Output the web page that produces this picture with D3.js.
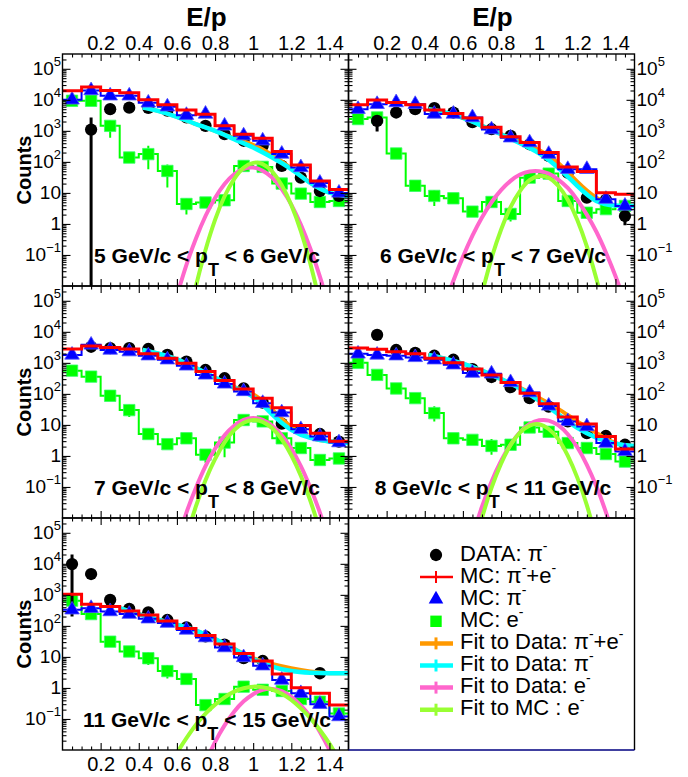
<!DOCTYPE html>
<html><head><meta charset="utf-8">
<script src="https://cdn.jsdelivr.net/npm/d3@7"></script>
<style>body{margin:0;background:#fff}svg text{font-family:"Liberation Sans",Arial,Helvetica,sans-serif}</style>
</head><body><svg id="c" width="688" height="777"></svg>
<script>
// ---------------- data ----------------
const binCenters = [0.05,0.15,0.25,0.35,0.45,0.55,0.65,0.75,0.85,0.95,1.05,1.15,1.25,1.35,1.45];
const binWidth = 0.1;
const ptLow = [5,6,7,8,11];
const ptHigh = [6,7,8,11,15];
const xTicks = [0.2,0.4,0.6,0.8,1.0,1.2,1.4];
const xTickLabels = ["0.2","0.4","0.6","0.8","1","1.2","1.4"];
const yTicks = [0.1,1,10,100,1000,10000,100000];
const yTickLabels = ["10^\u22121","1","10","10^2","10^3","10^4","10^5"];

// DATA: pi- (black)
const dataPi = [
 [null,1100,5000,5600,5500,4500,2700,1450,780,480,330,74,31,11.5,8],
 [null,2100,3900,5000,5400,3900,1900,1130,690,370,155,45,7,6,1.8],
 [null,3300,3000,3000,2800,1800,1100,590,320,150,52,11,7,5.1,2.9],
 [null,8000,2600,2100,1700,1260,630,350,165,73,39,13,5.4,4.4,2.3],
 [9800,4700,690,355,275,155,89,46,25,9.1,7.4,null,null,3.0,null]
];
const dataErrLow = [
 [null,0.001,null,null,null,null,null,null,null,null,null,null,null,null,null],
 [null,950,null,null,null,null,null,null,null,null,null,null,null,null,0.9],
 [null,null,null,null,null,null,null,null,null,null,null,null,null,null,null],
 [null,null,null,null,null,null,null,null,null,null,null,null,null,null,null],
 [200,null,null,null,null,null,null,null,null,null,null,null,null,1.9,null]
];
const dataErrHigh = [
 [null,2700,null,null,null,null,null,null,null,null,null,null,null,null,null],
 [null,3000,null,null,null,null,null,null,null,null,null,null,null,null,2.6],
 [null,null,null,null,null,null,null,null,null,null,null,null,null,null,null],
 [null,null,null,null,null,null,null,null,null,null,null,null,null,null,null],
 [20000,null,null,null,null,null,null,null,null,null,null,null,null,4.3,null]
];
// MC: pi- + e- (red histogram)
const mcPiE = [
 [19500,26000,20000,17000,10000,6900,4700,3400,1450,780,580,215,80,24,13],
 [6900,9800,8200,6900,4700,3600,2600,1300,650,420,200,69,49,10.2,9.1],
 [2800,3500,3100,2800,1950,1400,970,525,270,143,73,36,9.6,5.4,3.0],
 [3000,2750,2300,1950,1400,1000,630,410,235,105,48,18,10.7,4.2,1.66],
 [1050,500,420,300,225,145,83,49,26,13,7.4,2.8,1.02,0.67,0.28]
];
// MC: pi- (blue)
const mcPi = [
 [10000,20000,13500,13500,8000,6000,3200,3500,1450,700,480,180,66,21,10],
 [5000,7200,8200,7200,3500,3500,2700,1100,600,420,178,58,58,6.3,3.8],
 [1800,3800,2600,2300,1700,1260,800,410,210,120,50,25,7.2,4.2,2.7],
 [1950,1800,1700,1500,1260,870,470,445,235,110,41,13,8.9,2.6,1.4],
 [330,370,290,240,170,123,74,42,20,9.6,5.2,1.8,0.67,0.30,0.12]
];
// MC: e- (green)
const mcE = [
 [9300,9300,1450,138,178,51,4.4,4.9,5.8,74,69,20,9.5,5.1,5.5],
 [2400,2700,186,17,8,6.7,2.5,5.1,2.1,31,42,5.5,2.3,3.0,3.8],
 [560,360,87,30,5.1,2.4,3.7,1.1,2.7,14.4,13,3.7,1.8,0.74,0.83],
 [1000,410,150,73,24,3.7,3.3,2.1,2.3,8.3,6.0,2.6,1.8,1.15,0.66],
 [650,240,31,15,9.1,3.5,1.95,0.28,0.44,1.1,0.87,0.80,0.44,0.36,0.15]
];
const mcEErrLow = [
 [null,null,600,100,58,15,2.0,null,null,null,null,null,null,null,null],
 [null,null,null,null,3.8,null,null,null,1.2,null,null,null,null,null,null],
 [null,null,null,18,null,null,null,0.6,0.9,null,null,null,null,null,null],
 [null,null,null,null,13,null,null,1.1,null,null,null,null,null,null,null],
 [null,null,null,null,5.5,2.0,null,null,null,null,null,null,null,null,null]
];
const mcEErrHigh = [
 [null,null,2100,190,330,83,6.5,null,null,null,null,null,null,null,null],
 [null,null,null,null,12,null,null,null,3.5,null,null,null,null,null,null],
 [null,null,null,45,null,null,null,1.6,4,null,null,null,null,null,null],
 [null,null,null,null,40,null,null,3.5,null,null,null,null,null,null,null],
 [null,null,null,null,14,5.5,null,null,null,null,null,null,null,null,null]
];
// Fit to Data: pi- + e- (orange)  [E/p, counts]
const fitDataPiE = [
 [[0.42,5600],[0.5,4400],[0.6,2800],[0.7,1660],[0.8,1007],[0.9,580],[1.0,356],[1.1,169],[1.2,62],[1.3,21.2],[1.4,10.2],[1.5,8]],
 [[0.42,5000],[0.5,4000],[0.6,2600],[0.7,1452],[0.8,792],[0.9,439],[1.0,240],[1.1,92],[1.2,23],[1.3,7],[1.4,3.9],[1.5,3.8]],
 [[0.42,2600],[0.5,2000],[0.6,1300],[0.7,680],[0.8,332],[0.9,169],[1.0,97],[1.1,31],[1.2,8.7],[1.3,3.9],[1.4,2.9],[1.5,2.6]],
 [[0.42,1800],[0.5,1400],[0.6,950],[0.7,560],[0.8,301],[0.9,156],[1.0,74],[1.1,33],[1.2,13],[1.3,5.5],[1.4,2.6],[1.5,2.1]],
 [[0.3,370],[0.4,240],[0.5,160],[0.6,110],[0.7,70],[0.8,38],[0.9,18.2],[1.0,9.1],[1.1,5.9],[1.2,4.3],[1.3,3.4],[1.4,3.0],[1.5,3.0]]
];
// Fit to Data: pi- (cyan)
const fitDataPi = [
 [[0.42,5600],[0.5,4400],[0.6,2800],[0.7,1660],[0.8,1000],[0.9,540],[1.0,290],[1.1,138],[1.2,58],[1.3,21],[1.4,10.2],[1.5,8]],
 [[0.42,5000],[0.5,4000],[0.6,2600],[0.7,1450],[0.8,780],[0.9,400],[1.0,190],[1.1,65],[1.2,17],[1.3,5.5],[1.4,3.9],[1.5,3.8]],
 [[0.42,2600],[0.5,2000],[0.6,1300],[0.7,680],[0.8,330],[0.9,160],[1.0,80],[1.1,22],[1.2,7],[1.3,3.8],[1.4,2.9],[1.5,2.6]],
 [[0.42,1800],[0.5,1400],[0.6,950],[0.7,560],[0.8,300],[0.9,150],[1.0,60],[1.1,22],[1.2,8],[1.3,3.9],[1.4,2.5],[1.5,2.1]],
 [[0.3,370],[0.4,240],[0.5,160],[0.6,110],[0.7,70],[0.8,38],[0.9,18],[1.0,8.5],[1.1,4.9],[1.2,3.5],[1.3,3.1],[1.4,3.0],[1.5,3.0]]
];
// Fit to Data: e- (pink)
const fitDataE = [
 [[0.60,0.0049],[0.65,0.048],[0.70,0.34],[0.75,1.8],[0.80,6.9],[0.85,19.5],[0.90,40],[0.95,60],[1.00,66],[1.05,52],[1.10,31],[1.15,13.2],[1.20,4.2],[1.25,0.95],[1.30,0.16],[1.35,0.02],[1.40,0.0018]],
 [[0.50,0.002],[0.55,0.0148],[0.60,0.087],[0.65,0.42],[0.70,1.62],[0.75,5.0],[0.80,12.3],[0.85,24.5],[0.90,39],[0.95,49],[1.00,50],[1.05,42],[1.10,27],[1.15,14.5],[1.20,6.0],[1.25,2.0],[1.30,0.56],[1.35,0.12],[1.40,0.021],[1.45,0.003]],
 [[0.60,0.0017],[0.65,0.015],[0.70,0.095],[0.75,0.47],[0.80,1.7],[0.85,4.6],[0.90,9.3],[0.95,14.5],[1.00,16.6],[1.05,14.5],[1.10,9.3],[1.15,4.6],[1.20,1.7],[1.25,0.47],[1.30,0.095],[1.35,0.015],[1.40,0.0017]],
 [[0.65,0.0026],[0.70,0.023],[0.75,0.148],[0.80,0.69],[0.85,2.3],[0.90,5.9],[0.95,10.7],[1.00,14.1],[1.05,13.8],[1.10,9.8],[1.15,5.0],[1.20,1.9],[1.25,0.52],[1.30,0.105],[1.35,0.0155],[1.40,0.0017]],
 [[0.75,0.004],[0.80,0.018],[0.85,0.062],[0.90,0.17],[0.95,0.37],[1.00,0.63],[1.05,0.87],[1.10,0.93],[1.15,0.79],[1.20,0.52],[1.25,0.275],[1.30,0.117],[1.35,0.038],[1.40,0.01],[1.45,0.002]]
];
// Fit to MC: e- (lime)
const fitMcE = [
 [[0.65,0.00044],[0.70,0.01],[0.75,0.145],[0.80,1.35],[0.85,7.8],[0.90,28],[0.95,65],[1.00,93],[1.05,85],[1.10,49],[1.15,17.8],[1.20,4.1],[1.25,0.59],[1.30,0.052],[1.35,0.003]],
 [[0.70,0.0058],[0.75,0.078],[0.80,0.65],[0.85,3.5],[0.90,11.7],[0.95,25.7],[1.00,35],[1.05,31],[1.10,17],[1.15,6.0],[1.20,1.35],[1.25,0.19],[1.30,0.017],[1.35,0.001]],
 [[0.65,0.0025],[0.70,0.024],[0.75,0.166],[0.80,0.79],[0.85,2.75],[0.90,6.8],[0.95,11.7],[1.00,14.5],[1.05,12.6],[1.10,7.8],[1.15,3.4],[1.20,1.05],[1.25,0.23],[1.30,0.036],[1.35,0.004]],
 [[0.65,0.0007],[0.70,0.01],[0.75,0.093],[0.80,0.56],[0.85,2.24],[0.90,5.75],[0.95,9.5],[1.00,10.5],[1.05,7.4],[1.10,3.5],[1.15,1.02],[1.20,0.2],[1.25,0.026],[1.30,0.0021]],
 [[0.55,0.0022],[0.60,0.0079],[0.65,0.024],[0.70,0.065],[0.75,0.148],[0.80,0.29],[0.85,0.50],[0.90,0.76],[0.95,0.98],[1.00,1.10],[1.05,1.05],[1.10,0.89],[1.15,0.65],[1.20,0.41],[1.25,0.22],[1.30,0.107],[1.35,0.044],[1.40,0.016],[1.45,0.0049]]
];
const legendLabels = ["DATA: \u03c0^-","MC: \u03c0^-+e^-","MC: \u03c0^-","MC: e^-","Fit to Data: \u03c0^-+e^-","Fit to Data: \u03c0^-","Fit to Data: e^-","Fit to MC : e^-"];

// ---------------- layout / style ----------------
const C = {black:"#000", red:"#ff0000", blue:"#0000ff", green:"#00ff00", orange:"#ff9900", cyan:"#00ffff", pink:"#ff66cc", lime:"#99ff33"};
const colX = [62.5, 348.5], rowY = [54, 286, 518], PW = 286, PH = 232;
const svg = d3.select("#c");
const defs = svg.append("defs");
const FONT = '"Liberation Sans",Arial,Helvetica,sans-serif';

function addSupText(sel, label, supSize, supDy){
  const parts = label.split("^");
  parts.forEach((p,k)=>{
    if(k===0){ if(p) sel.append("tspan").text(p); return; }
    const sup = p[0]==="\u2212" ? p.slice(0,2) : p[0];
    const rest = p.slice(sup.length);
    sel.append("tspan").attr("font-size",supSize).attr("dy",-supDy).text(sup);
    if(rest) sel.append("tspan").attr("dy",supDy).text(rest);
  });
}

ptLow.forEach((lo, i) => {
  const col = i % 2, row = Math.floor(i / 2);
  const x0 = colX[col], y0 = rowY[row];
  const x = d3.scaleLinear().domain([0, 1.5]).range([x0, x0 + PW]);
  const y = d3.scaleLog().domain([0.01, 3e5]).range([y0 + PH, y0]);
  const cid = "clip" + i;
  defs.append("clipPath").attr("id", cid).append("rect")
      .attr("x", x0).attr("y", y0).attr("width", PW).attr("height", PH);
  const g = svg.append("g").attr("clip-path", `url(#${cid})`);

  const stepPts = vals => {
    const pts = vals.map((v, k) => [binCenters[k] - binWidth / 2, v]);
    pts.push([binCenters[vals.length - 1] + binWidth / 2, vals[vals.length - 1]]);
    return pts;
  };
  const stepLine = d3.line().x(d => x(d[0])).y(d => y(d[1])).curve(d3.curveStepAfter);
  const fitLine = d3.line().x(d => x(d[0])).y(d => y(d[1])).curve(d3.curveNatural);
  const errBars = (lo_, hi_, color, w) => {
    g.append("g").selectAll("line").data(binCenters.map((c,k)=>({c, lo: lo_[k], hi: hi_[k]})).filter(d=>d.lo!=null))
      .join("line").attr("x1", d=>x(d.c)).attr("x2", d=>x(d.c))
      .attr("y1", d=>y(d.lo)).attr("y2", d=>y(d.hi)).attr("stroke", color).attr("stroke-width", w);
  };
  const markers = (vals, type, size, fill, stroke) => {
    g.append("g").selectAll("path").data(binCenters.map((c,k)=>({c, v: vals[k]})).filter(d=>d.v!=null))
      .join("path").attr("d", d3.symbol().type(type).size(size))
      .attr("transform", d => `translate(${x(d.c)},${y(d.v)})`)
      .attr("fill", fill).attr("stroke", stroke || "none").attr("stroke-width", 0.8);
  };

  // MC e- (green)
  g.append("path").attr("d", stepLine(stepPts(mcE[i]))).attr("fill","none").attr("stroke",C.green).attr("stroke-width",2);
  errBars(mcEErrLow[i], mcEErrHigh[i], C.green, 2);
  markers(mcE[i], d3.symbolSquare, 130, C.green, "#33ff66");
  // DATA
  errBars(dataErrLow[i], dataErrHigh[i], C.black, 3);
  markers(dataPi[i], d3.symbolCircle, 118, C.black);
  // fits to data (orange below cyan)
  g.append("path").attr("d", fitLine(fitDataPiE[i])).attr("fill","none").attr("stroke",C.orange).attr("stroke-width",4);
  g.append("path").attr("d", fitLine(fitDataPi[i])).attr("fill","none").attr("stroke",C.cyan).attr("stroke-width",4.5);
  // MC pi- (blue)
  g.append("path").attr("d", stepLine(stepPts(mcPi[i]))).attr("fill","none").attr("stroke",C.blue).attr("stroke-width",2);
  markers(mcPi[i], d3.symbolTriangle, 92, C.blue, "#4d4dff");
  // MC pi- + e- (red)
  g.append("path").attr("d", stepLine(stepPts(mcPiE[i]))).attr("fill","none").attr("stroke",C.red).attr("stroke-width",3);
  // gaussian fits
  g.append("path").attr("d", fitLine(fitDataE[i])).attr("fill","none").attr("stroke",C.pink).attr("stroke-width",4);
  g.append("path").attr("d", fitLine(fitMcE[i])).attr("fill","none").attr("stroke",C.lime).attr("stroke-width",4);

  // ----- axes (ticks inside) -----
  const minorX = d3.range(1, 30).map(k => +(k * 0.05).toFixed(2)).filter(v => !xTicks.some(t => Math.abs(t - v) < 1e-6));
  const minorY = [];
  for (let e = -2; e <= 5; e++) for (let m = 2; m <= 9; m++) { const v = m * Math.pow(10, e); if (v < 3e5) minorY.push(v); }
  const styleAx = (sel, labels) => {
    sel.select(".domain").remove();
    sel.selectAll("line").attr("stroke", "#000").attr("stroke-width", 1.1);
    sel.attr("font-family", FONT).attr("font-size", 20);
    if (!labels) sel.selectAll("text").remove();
  };
  const ax = svg.append("g");
  const topLabels = row === 0;
  const botLabels = i === 4;
  ax.append("g").attr("transform", `translate(0,${y0 + PH})`)
    .call(d3.axisBottom(x).tickValues(xTicks).tickSizeInner(-7).tickSizeOuter(0).tickPadding(7).tickFormat((d,k)=>xTickLabels[k]))
    .call(s => styleAx(s, botLabels));
  ax.append("g").attr("transform", `translate(0,${y0 + PH})`)
    .call(d3.axisBottom(x).tickValues(minorX).tickSizeInner(-3.5).tickSizeOuter(0).tickFormat(""))
    .call(s => styleAx(s, false));
  ax.append("g").attr("transform", `translate(0,${y0})`)
    .call(d3.axisTop(x).tickValues(xTicks).tickSizeInner(-7).tickSizeOuter(0).tickPadding(4).tickFormat((d,k)=>xTickLabels[k]))
    .call(s => styleAx(s, topLabels));
  ax.append("g").attr("transform", `translate(0,${y0})`)
    .call(d3.axisTop(x).tickValues(minorX).tickSizeInner(-3.5).tickSizeOuter(0).tickFormat(""))
    .call(s => styleAx(s, false));
  ax.append("g").attr("transform", `translate(${x0},0)`)
    .call(d3.axisLeft(y).tickValues(yTicks).tickSizeInner(-8).tickSizeOuter(0).tickFormat(""))
    .call(s => styleAx(s, false));
  ax.append("g").attr("transform", `translate(${x0},0)`)
    .call(d3.axisLeft(y).tickValues(minorY).tickSizeInner(-4).tickSizeOuter(0).tickFormat(""))
    .call(s => styleAx(s, false));
  ax.append("g").attr("transform", `translate(${x0 + PW},0)`)
    .call(d3.axisRight(y).tickValues(yTicks).tickSizeInner(-8).tickSizeOuter(0).tickFormat(""))
    .call(s => styleAx(s, false));
  ax.append("g").attr("transform", `translate(${x0 + PW},0)`)
    .call(d3.axisRight(y).tickValues(minorY).tickSizeInner(-4).tickSizeOuter(0).tickFormat(""))
    .call(s => styleAx(s, false));

  // y tick labels
  yTicks.forEach((v, k) => {
    const t = svg.append("text").attr("font-size", 19)
      .attr("x", col === 0 ? x0 - 1.5 : x0 + PW + 2)
      .attr("y", y(v) + 6.5)
      .attr("text-anchor", col === 0 ? "end" : "start");
    addSupText(t, yTickLabels[k], 13, 9);
  });

  // frame
  svg.append("rect").attr("x", x0).attr("y", y0).attr("width", PW).attr("height", PH)
     .attr("fill", "none").attr("stroke", "#000").attr("stroke-width", 1.4);

  // y title
  if (col === 0) {
    svg.append("text").attr("transform", `translate(31,${y0 + PH / 2}) rotate(-90)`)
      .attr("text-anchor", "middle").attr("font-size", 20).attr("font-weight", "bold").text("Counts");
  }
  // x title on top
  if (row === 0) {
    svg.append("text").attr("x", x0 + PW / 2 + 1).attr("y", 26).attr("text-anchor", "middle")
      .attr("font-size", 26).attr("font-weight", "bold").text("E/p");
  }
  // pT label
  const lab = svg.append("text").attr("x", x0 + PW / 2 + 1.5).attr("y", y0 + PH - 23)
    .attr("text-anchor", "middle").attr("font-size", 21).attr("font-weight", "bold");
  lab.append("tspan").text(`${lo} GeV/c < p`);
  lab.append("tspan").attr("font-size", 18).attr("dy", 13).text("T");
  lab.append("tspan").attr("dy", -13).text(` < ${ptHigh[i]} GeV/c`);
});

// ---------------- legend panel ----------------
const lx0 = colX[1], ly0 = rowY[2];
svg.append("line").attr("x1", lx0 + PW).attr("x2", lx0 + PW).attr("y1", ly0).attr("y2", ly0 + PH).attr("stroke", "#000").attr("stroke-width", 1.4);
svg.append("line").attr("x1", lx0).attr("x2", lx0 + PW).attr("y1", ly0).attr("y2", ly0).attr("stroke", "#000").attr("stroke-width", 1.4);
svg.append("line").attr("x1", lx0).attr("x2", lx0).attr("y1", ly0).attr("y2", ly0 + PH).attr("stroke", "#000").attr("stroke-width", 1.4);
svg.append("line").attr("x1", lx0).attr("x2", lx0 + PW).attr("y1", ly0 + PH).attr("y2", ly0 + PH).attr("stroke", "#000080").attr("stroke-width", 1.6);

const legSym = [
  {kind:"m", type:d3.symbolCircle, size:118, color:C.black},
  {kind:"l", color:C.red, w:2.5},
  {kind:"m", type:d3.symbolTriangle, size:92, color:C.blue},
  {kind:"m", type:d3.symbolSquare, size:130, color:C.green},
  {kind:"l", color:C.orange, w:4.5},
  {kind:"l", color:C.cyan, w:4.5},
  {kind:"l", color:C.pink, w:4.5},
  {kind:"l", color:C.lime, w:4.5}
];
const legX = 436, legTextX = 460;
legendLabels.forEach((lab, k) => {
  const ry = 555 + k * 22.1;
  const s = legSym[k];
  if (s.kind === "m") {
    svg.append("path").attr("d", d3.symbol().type(s.type).size(s.size)()).attr("transform", `translate(${legX},${ry})`).attr("fill", s.color);
  } else {
    svg.append("line").attr("x1", legX - 16).attr("x2", legX + 17).attr("y1", ry).attr("y2", ry).attr("stroke", s.color).attr("stroke-width", s.w);
    svg.append("line").attr("x1", legX).attr("x2", legX).attr("y1", ry - 6).attr("y2", ry + 6).attr("stroke", s.color).attr("stroke-width", k === 1 ? 2 : 3);
  }
  const t = svg.append("text").attr("x", legTextX).attr("y", ry + 5.5).attr("font-size", 22);
  addSupText(t, lab, 14, 10);
});
</script></body></html>
